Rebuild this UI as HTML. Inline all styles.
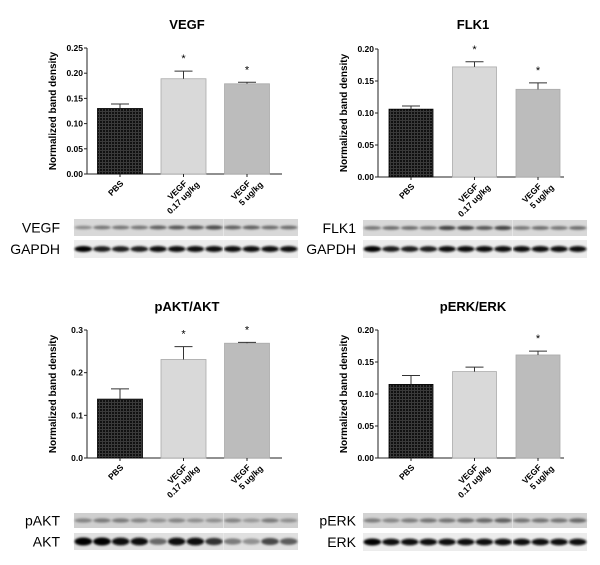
<!DOCTYPE html>
<html><head><meta charset="utf-8">
<style>
html,body{margin:0;padding:0;background:#fff;width:600px;height:565px;overflow:hidden}
svg{display:block;font-family:"Liberation Sans",Arial,sans-serif}
</style></head>
<body>
<svg id="fig" width="600" height="565" viewBox="0 0 600 565">
<defs>
<pattern id="hatch" width="3" height="3" patternUnits="userSpaceOnUse">
<rect width="3" height="3" fill="#111"/><rect width="1" height="3" fill="#3a3a3a"/><rect width="3" height="1" fill="#3a3a3a"/>
</pattern>
<filter id="blur" x="-20%" y="-50%" width="140%" height="200%"><feGaussianBlur stdDeviation="1.1"/></filter>
</defs>
</svg>
<script>
const categories=["PBS","VEGF|0.17 ug/kg","VEGF|5 ug/kg"];
const titles=["VEGF","FLK1","pAKT/AKT","pERK/ERK"];
const vegfValues=[0.130,0.189,0.179];
const vegfErrors=[0.009,0.015,0.003];
const flk1Values=[0.106,0.172,0.137];
const flk1Errors=[0.005,0.008,0.010];
const paktValues=[0.138,0.231,0.269];
const paktErrors=[0.024,0.030,0.002];
const perkValues=[0.115,0.135,0.161];
const perkErrors=[0.014,0.007,0.006];
const vegfTicks=["0.00","0.05","0.10","0.15","0.20","0.25"];
const flk1Ticks=["0.00","0.05","0.10","0.15","0.20"];
const paktTicks=["0.0","0.1","0.2","0.3"];
const perkTicks=["0.00","0.05","0.10","0.15","0.20"];
const vegfStars=[false,true,true];
const flk1Stars=[false,true,true];
const paktStars=[false,true,true];
const perkStars=[false,false,true];
// blot band intensities (0..1) per lane
const vegfBlot=[0.35,0.45,0.45,0.45,0.55,0.6,0.6,0.65,0.55,0.55,0.5,0.5];
const flk1Blot=[0.45,0.5,0.5,0.45,0.7,0.7,0.6,0.7,0.45,0.5,0.45,0.5];
const paktBlot=[0.35,0.4,0.4,0.35,0.3,0.35,0.3,0.3,0.35,0.25,0.4,0.3];
const aktBlot=[1,1,0.95,0.95,0.55,0.95,0.95,0.8,0.45,0.35,0.7,0.6];
const perkBlot=[0.4,0.35,0.4,0.45,0.45,0.5,0.5,0.55,0.45,0.45,0.45,0.5];
const erkBlot=[1,0.95,0.95,0.95,0.95,0.95,0.95,0.95,0.95,0.95,0.95,0.95];
const gapdhBlot=[1,0.9,0.9,0.9,0.95,0.95,0.95,0.95,0.95,0.95,0.95,0.95];

const NS="http://www.w3.org/2000/svg";
const svg=document.getElementById('fig');
function mk(tag,attrs,parent){const e=document.createElementNS(NS,tag);for(const k in attrs)e.setAttribute(k,attrs[k]);(parent||svg).appendChild(e);return e;}

const fills=["url(#hatch)","#d9d9d9","#bcbcbc"];
function chart(cfg){
  const g=mk('g',{});
  
  
  const ticks=cfg.ticks, max=parseFloat(ticks[ticks.length-1]);
  const y=v=>cfg.y0-(v/max)*(cfg.y0-cfg.y1);
  const x=i=>cfg.c0+i*cfg.step;
  const t=mk('text',{x:cfg.tx,y:cfg.ty,'text-anchor':'middle','font-size':13,'font-weight':'bold'},g);
  t.textContent=cfg.title;
  
  
  const ax=mk('line',{x1:cfg.ax,y1:cfg.y1,x2:cfg.ax,y2:cfg.y0,stroke:'#222','stroke-width':1},g);
  
  
  const bx=mk('line',{x1:cfg.ax,y1:cfg.y0,x2:cfg.axEnd,y2:cfg.y0,stroke:'#222','stroke-width':1},g);
  
  
  ticks.forEach(tk=>{
    const yy=y(parseFloat(tk));
    mk('line',{x1:cfg.ax-3,y1:yy,x2:cfg.ax,y2:yy,stroke:'#222'},g);
    const tl=mk('text',{x:cfg.ax-4,y:yy+3,'text-anchor':'end','font-size':8.5,'font-weight':'bold'},g);
    tl.textContent=tk;
    
    
  });
  const yl=mk('text',{x:0,y:0,'text-anchor':'middle','font-size':10,'font-weight':'bold',transform:`translate(${cfg.ax-31},${(cfg.y0+cfg.y1)/2}) rotate(-90)`},g);
  yl.textContent='Normalized band density';
  
  
  cfg.values.forEach((v,i)=>{
    const cx=x(i), w=cfg.bw;
    const b=mk('rect',{x:cx-w/2,y:y(v),width:w,height:cfg.y0-y(v),fill:fills[i],stroke:i==0?'#000':'#aaa','stroke-width':0.8},g);
    
    
    const top=y(v+cfg.errors[i]);
    const e=mk('path',{d:`M${cx} ${y(v)}V${top}M${cx-9} ${top}H${cx+9}`,stroke:'#333','stroke-width':1,fill:'none'},g);
    
    
    if(cfg.stars[i]){
      const s=mk('text',{x:cx,y:top-9,'text-anchor':'middle','font-size':11},g);
      s.textContent='*';
      
      
    }
    mk('line',{x1:cx,y1:cfg.y0,x2:cx,y2:cfg.y0+3,stroke:'#222'},g);
    const parts=categories[i].split('|');
    const lab=mk('text',{'text-anchor':'end','font-size':8.5,'font-weight':'bold',transform:`translate(${cx+4},${cfg.y0+10}) rotate(-45)`},g);
    
    
    parts.forEach((p,k)=>{const ts=mk('tspan',{x:k==0?0:8,dy:k==0?0:9.5},lab);ts.textContent=p;});
  });
}
function blot(cfg){
  const g=mk('g',{});
  
  
  const lw=(cfg.x1-cfg.x0)/12;
  mk('rect',{x:cfg.x0,y:cfg.y0,width:cfg.x1-cfg.x0,height:cfg.h,fill:cfg.bg},g);
  const bands=mk('g',{filter:'url(#blur)'},g);
  cfg.vals.forEach((v,i)=>{
    const cx=cfg.x0+lw*(i+0.5);
    const c=Math.round(cfg.bgv-(cfg.bgv-5)*v);
    mk('ellipse',{cx:cx,cy:cfg.y0+cfg.h/2,rx:lw*0.47,ry:cfg.bh*(0.6+0.4*v),fill:`rgb(${c},${c},${c})`},bands);
  });
  mk('line',{x1:cfg.x0+lw*8,y1:cfg.y0,x2:cfg.x0+lw*8,y2:cfg.y0+cfg.h,stroke:'#eee','stroke-width':0.6},g);
  const l=mk('text',{x:cfg.lx,y:cfg.y0+cfg.h/2+5,'text-anchor':'end','font-size':14},g);
  l.textContent=cfg.label;
  
  
}
chart({name:'vegf',title:titles[0],values:vegfValues,errors:vegfErrors,ticks:vegfTicks,stars:vegfStars,tx:187,ty:29,ax:87,axEnd:282,y0:174,y1:48,c0:120,step:63.5,bw:45});
chart({name:'flk1',title:titles[1],values:flk1Values,errors:flk1Errors,ticks:flk1Ticks,stars:flk1Stars,tx:473,ty:29,ax:378,axEnd:564,y0:177,y1:49,c0:411,step:63.5,bw:44});
chart({name:'pakt',title:titles[2],values:paktValues,errors:paktErrors,ticks:paktTicks,stars:paktStars,tx:187,ty:311,ax:87,axEnd:282,y0:458,y1:330,c0:120,step:63.5,bw:45});
chart({name:'perk',title:titles[3],values:perkValues,errors:perkErrors,ticks:perkTicks,stars:perkStars,tx:473,ty:311,ax:378,axEnd:564,y0:458,y1:330,c0:411,step:63.5,bw:44});

blot({name:'vegf',label:'VEGF',vals:vegfBlot,x0:74,x1:298,y0:219,h:17,bh:2.4,bg:'#d8d8d8',bgv:210,lx:60});
blot({name:'gapdh-1',label:'GAPDH',vals:gapdhBlot,x0:74,x1:298,y0:240,h:18,bh:3,bg:'#ececec',bgv:236,lx:60});
blot({name:'flk1',label:'FLK1',vals:flk1Blot,x0:363,x1:587,y0:220,h:16,bh:2.4,bg:'#d8d8d8',bgv:210,lx:356});
blot({name:'gapdh-2',label:'GAPDH',vals:gapdhBlot,x0:363,x1:587,y0:240,h:18,bh:3,bg:'#ececec',bgv:236,lx:356});
blot({name:'pakt',label:'pAKT',vals:paktBlot,x0:74,x1:298,y0:513,h:15,bh:2.8,bg:'#cfcfcf',bgv:200,lx:60});
blot({name:'akt',label:'AKT',vals:aktBlot,x0:74,x1:298,y0:533,h:17,bh:4,bg:'#e0e0e0',bgv:222,lx:60});
blot({name:'perk',label:'pERK',vals:perkBlot,x0:363,x1:587,y0:513,h:15,bh:2.8,bg:'#d2d2d2',bgv:205,lx:356});
blot({name:'erk',label:'ERK',vals:erkBlot,x0:363,x1:587,y0:533,h:18,bh:3.5,bg:'#ececec',bgv:236,lx:356});
</script>
</body></html>
